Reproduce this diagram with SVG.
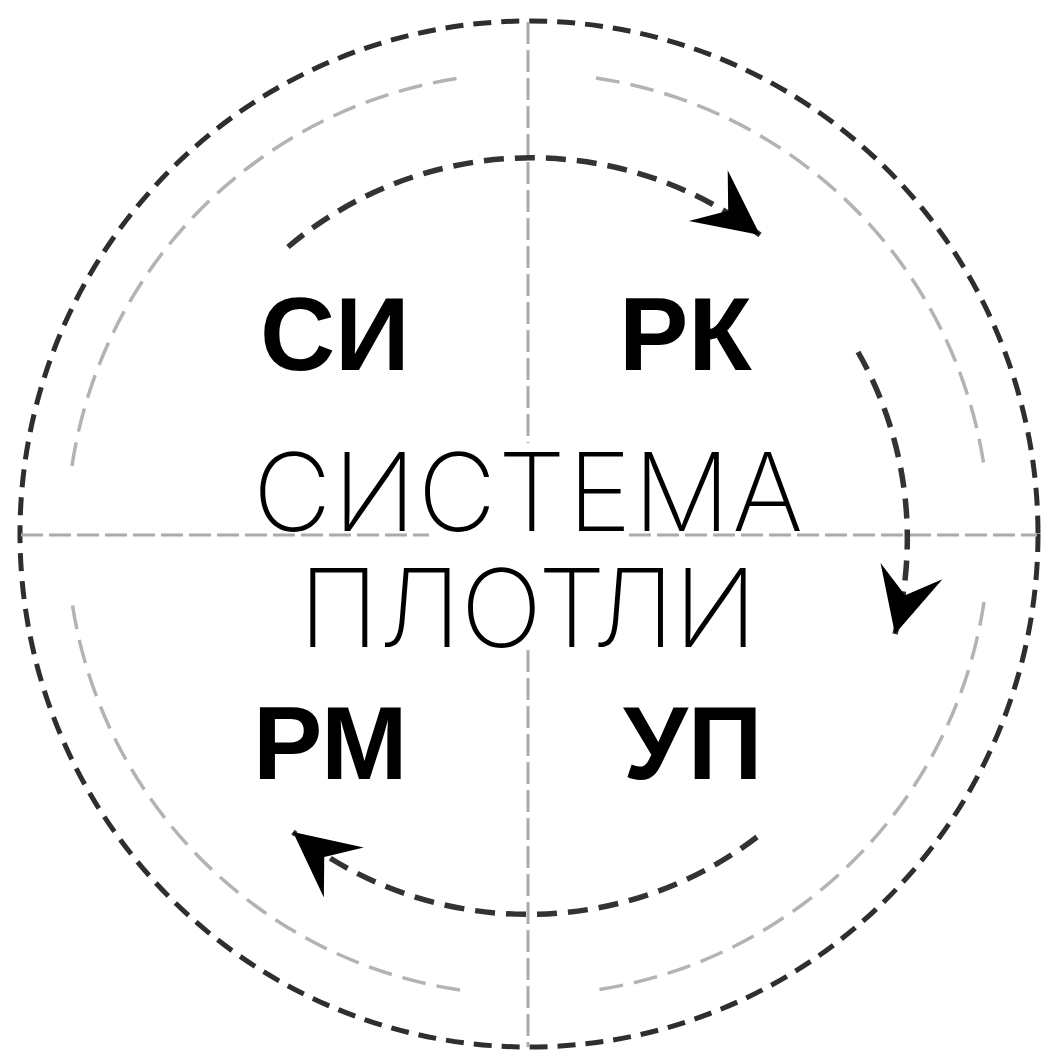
<svg xmlns="http://www.w3.org/2000/svg" width="1041" height="1057" viewBox="0 0 1041 1057">
  <style>
    .outer { fill: none; stroke: #2e2e2e; stroke-width: 5; stroke-dasharray: 18 10; }
    .inner { fill: none; stroke: #b3b3b3; stroke-width: 3.5; stroke-dasharray: 24 11; }
    .axis { fill: none; stroke: #ababab; stroke-width: 3; stroke-dasharray: 22 6; }
    .flow { fill: none; stroke: #333333; stroke-width: 5.5; stroke-dasharray: 20 11; marker-end: url(#head); }
    .label { font-family: "Liberation Sans", Arial, sans-serif; font-weight: bold; font-size: 104px; fill: #000; }
    .title { font-family: "Inter", "Open Sans", "Liberation Sans", sans-serif; font-weight: 200; font-size: 108px; fill: #000; }
  </style>
  <defs>
    <marker id="head" markerUnits="userSpaceOnUse" markerWidth="80" markerHeight="80" refX="70" refY="35" orient="auto" overflow="visible">
      <path d="M70,35 L5,3 L30,35 L5,67 Z" fill="#000"/>
    </marker>
  </defs>
  <rect width="1041" height="1057" fill="#ffffff"/>

  <g id="frame">
    <ellipse class="outer" cx="529" cy="534" rx="509" ry="513"/>
    <path class="inner" d="M72,466 A461,461 0 0 1 460,78"/>
    <path class="inner" d="M596,78 A461,461 0 0 1 984,466"/>
    <path class="inner" d="M984,602 A461,461 0 0 1 596,990"/>
    <path class="inner" d="M460,990 A461,461 0 0 1 72,602"/>
    <line class="axis" x1="528" y1="22" x2="528" y2="443"/>
    <line class="axis" x1="528" y1="650" x2="528" y2="1047"/>
    <line class="axis" x1="21" y1="535" x2="429" y2="535"/>
    <line class="axis" x1="629" y1="535" x2="1037" y2="535"/>
  </g>

  <g id="connectors">
    <path class="flow" d="M288,247 A377,377 0 0 1 760,235"/>
    <path class="flow" d="M858,352 A377,377 0 0 1 895,634"/>
    <path class="flow" d="M757,837 A377,377 0 0 1 293,832"/>
  </g>

  <g id="node-si"><text class="label" x="260" y="370">СИ</text></g>
  <g id="node-rk"><text class="label" x="619" y="370">РК</text></g>
  <g id="node-rm"><text class="label" x="253" y="779">РМ</text></g>
  <g id="node-up"><text class="label" x="623" y="779">УП</text></g>

  <g id="center-title">
    <text class="title" text-anchor="middle"><tspan x="528" y="531" textLength="550" lengthAdjust="spacing">СИСТЕМА</tspan><tspan x="528" y="647" textLength="458" lengthAdjust="spacing">ПЛОТЛИ</tspan></text>
  </g>
</svg>
